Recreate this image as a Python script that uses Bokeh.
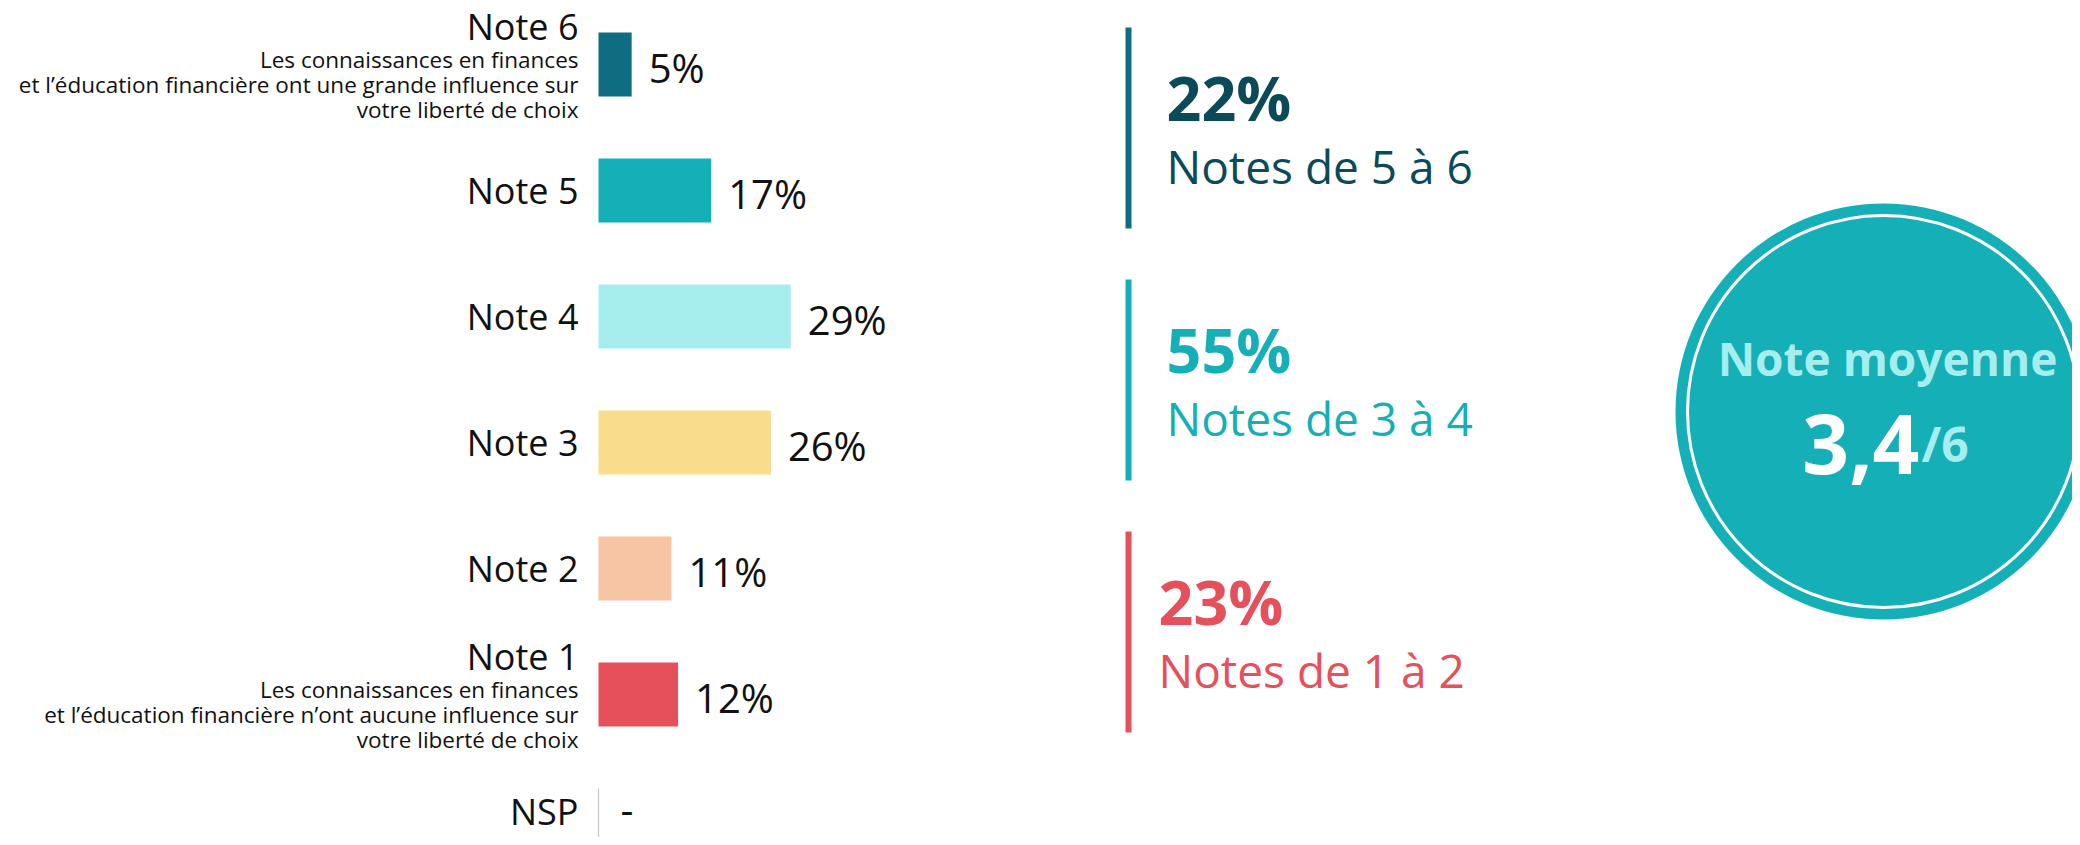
from bokeh.plotting import figure
from bokeh.models import Range1d, ColumnDataSource
from bokeh.core.properties import value
from bokeh.embed import file_html
from bokeh.resources import INLINE

# ---------------- data ----------------
categories = ["Note 6", "Note 5", "Note 4", "Note 3", "Note 2", "Note 1", "NSP"]
values = [5, 17, 29, 26, 11, 12, 0]
value_labels = ["5%", "17%", "29%", "26%", "11%", "12%", "-"]
bar_colors = ["#0f6d81", "#14afb7", "#a6eded", "#f9dc8c", "#f7c4a4", "#e5505a", "#c8c8c8"]

sub_note6 = ["Les connaissances en finances",
             "et l’éducation financière ont une grande influence sur",
             "votre liberté de choix"]
sub_note1 = ["Les connaissances en finances",
             "et l’éducation financière n’ont aucune influence sur",
             "votre liberté de choix"]

group_values = ["22%", "55%", "23%"]
group_labels = ["Notes de 5 à 6", "Notes de 3 à 4", "Notes de 1 à 2"]
group_first = [0, 2, 4]
group_last = [1, 3, 5]
group_line_colors = ["#0f6d81", "#14afb7", "#e5505a"]
group_text_colors = ["#0b4a59", "#14afb7", "#e5505a"]

mean_title = "Note moyenne"
mean_value = "3,4"
mean_scale = "/6"

# ---------------- layout helpers ----------------
W, H = 2072, 837
X0, PX_PER_PCT = 598, 6.63  # screen x of 0 %, px per %
Y0, ROW = 64, 126           # screen y of first row center, row pitch
BAR_PX = 64

def sx(px):
    return (px - X0) / PX_PER_PCT

def sy(py):
    return (py - Y0) / ROW

FONT = value("Open Sans")

p = figure(width=W, height=H, output_backend="svg", toolbar_location=None,
           x_range=Range1d(sx(0), sx(W)),
           y_range=Range1d(sy(H), sy(0)),
           min_border=0, outline_line_color=None)
p.axis.visible = False
p.grid.visible = False
p.background_fill_color = "white"
p.border_fill_color = "white"

idx = list(range(len(categories)))
bh = BAR_PX / ROW

src = ColumnDataSource(dict(y=idx, right=values, color=bar_colors,
                            cat=categories, vlab=value_labels))
p.hbar(y="y", left=0, right="right", height=bh, fill_color="color",
       line_color=None, source=src)

# zero-value row: thin grey stub
zero_y = [i for i, v in zip(idx, values) if v == 0]
p.segment(x0=[0] * len(zero_y), x1=[0] * len(zero_y),
          y0=[y - bh / 2 for y in zero_y], y1=[y + bh / 2 for y in zero_y],
          line_color="#c8c8c8", line_width=1.2)

# category labels
cat_off = []
for c, v in zip(categories, values):
    if c in ("Note 6", "Note 1"):
        cat_off.append(-38)
    elif v == 0:
        cat_off.append(-9)
    else:
        cat_off.append(0)
p.text(x=[0] * len(idx), y=idx, text=categories, x_offset=-20, y_offset=cat_off,
       text_align="right", text_baseline="middle", text_font=FONT,
       text_font_size="36px", text_color="#111111")

# sub labels
for row, lines in ((0, sub_note6), (5, sub_note1)):
    p.text(x=[0] * 3, y=[row] * 3, text=lines, x_offset=-20,
           y_offset=[-5, 20, 45], text_align="right", text_baseline="middle",
           text_font=FONT, text_font_size="22.5px", text_color="#111111")

# value labels
val_off = [-11 if v == 0 else 3 for v in values]
val_xoff = [22 if v == 0 else 17 for v in values]
p.text(x=values, y=idx, text=value_labels, x_offset=val_xoff, y_offset=val_off,
       text_align="left", text_baseline="middle", text_font=FONT,
       text_font_size="40px", text_color="#111111")

# group summaries
gx = sx(1128)
text_x = [sx(1166), sx(1166), sx(1158)]
for k in range(3):
    y_top = group_first[k] - bh / 2 - 5 / ROW
    y_bot = group_last[k] + bh / 2 + 6 / ROW
    p.segment(x0=[gx], x1=[gx], y0=[y_top], y1=[y_bot],
              line_color=group_line_colors[k], line_width=6)
    yc = (group_first[k] + group_last[k]) / 2
    p.text(x=[text_x[k]], y=[yc], text=[group_values[k]], y_offset=-30,
           text_align="left", text_baseline="middle", text_font=FONT,
           text_font_style="bold", text_font_size="61px",
           text_color=group_text_colors[k])
    p.text(x=[text_x[k]], y=[yc], text=[group_labels[k]], y_offset=38,
           text_align="left", text_baseline="middle", text_font=FONT,
           text_font_size="46px", text_color=group_text_colors[k])

# mean circle
cx, cy = sx(1883), sy(411)
p.scatter(x=[cx], y=[cy], marker="circle", size=416, fill_color="#14afb7",
          line_color=None)
p.scatter(x=[cx], y=[cy], marker="circle", size=392, fill_color=None,
          line_color="white", line_width=3)
p.text(x=[sx(1887)], y=[sy(357)], text=[mean_title], text_align="center",
       text_baseline="middle", text_font=FONT, text_font_style="bold",
       text_font_size="46px", text_color="#a6eded")
p.text(x=[sx(1919)], y=[sy(443)], text=[mean_value], text_align="right",
       text_baseline="alphabetic", text_font=FONT, text_font_style="bold",
       text_font_size="82px", text_color="white")
p.text(x=[sx(1921)], y=[sy(443)], text=[mean_scale], text_align="left",
       text_baseline="alphabetic", text_font=FONT, text_font_style="bold",
       text_font_size="48px", text_color="#a6eded")

open("out.html", "w").write(file_html(p, INLINE))
